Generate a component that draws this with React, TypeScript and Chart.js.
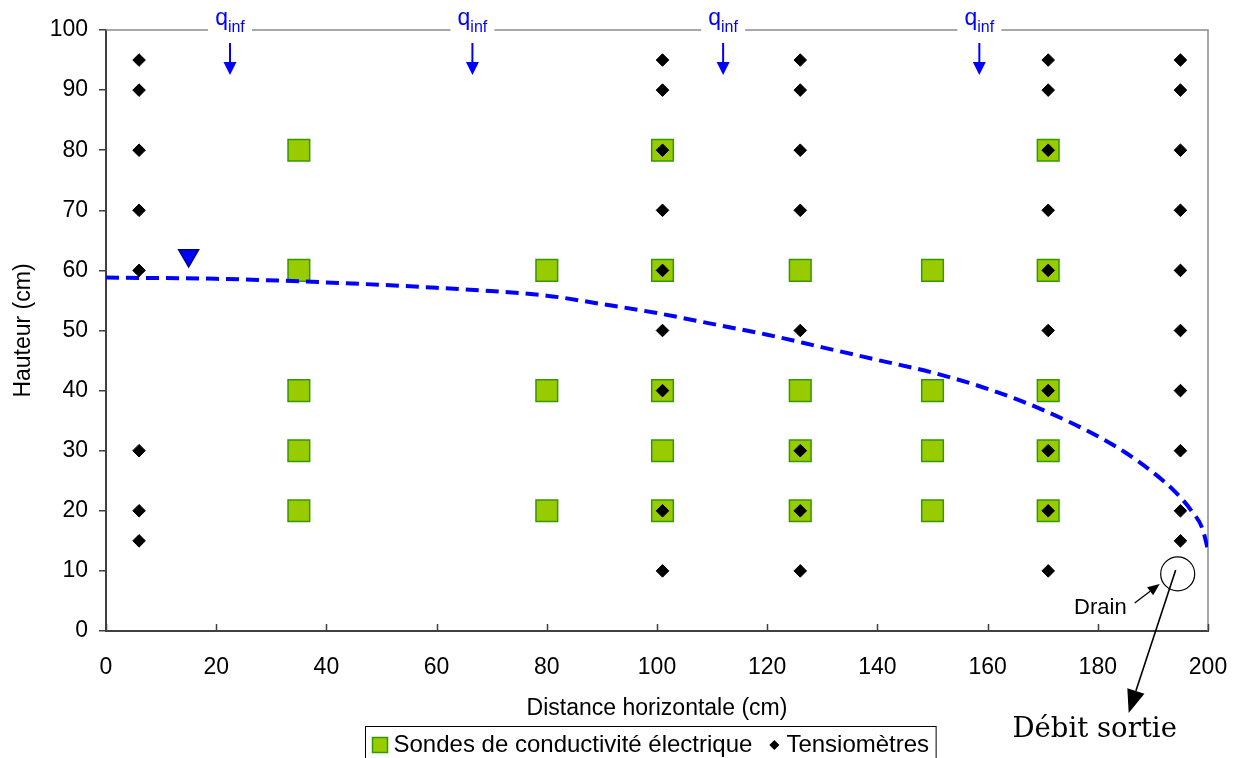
import React, { useEffect, useRef } from 'react';
import { Chart, registerables } from 'chart.js';

Chart.register(...registerables);

// ---- Data ----
const sondeColumns = [35, 80, 101, 126, 150, 171];
const sondeHeights = [
  [80, 60, 40, 30, 20],
  [60, 40, 20],
  [80, 60, 40, 30, 20],
  [60, 40, 30, 20],
  [60, 40, 30, 20],
  [80, 60, 40, 30, 20],
];
const tensioColumns = [6, 101, 126, 171, 195];
const tensioHeights = [
  [95, 90, 80, 70, 60, 30, 20, 15],
  [95, 90, 80, 70, 60, 50, 40, 20, 10],
  [95, 90, 80, 70, 50, 30, 20, 10],
  [95, 90, 80, 70, 60, 50, 40, 30, 20, 10],
  [95, 90, 80, 70, 60, 50, 40, 30, 20, 15],
];
const waterTableX = [0, 20, 40, 60, 80, 90, 100, 110, 120, 130, 140, 150, 160, 170, 180, 185, 190, 194, 197, 199, 200];
const waterTableY = [58.8, 58.6, 58.0, 57.1, 55.8, 54.4, 52.9, 51.1, 49.3, 47.2, 45.1, 43.0, 40.3, 36.8, 32.4, 29.7, 26.4, 23.2, 20.0, 17.0, 13.5];
const markerX = [15];
const markerY = [62.5];
const qInfX = [22.5, 66.5, 112, 158.5];
const drainX = [194.5];
const drainY = [9.5];
const xTickValues = [0, 20, 40, 60, 80, 100, 120, 140, 160, 180, 200];

const sondeLabel = 'Sondes de conductivité électrique';
const tensioLabel = 'Tensiomètres';

const SANS = '"Liberation Sans", Arial, sans-serif';
const SERIF = '"DejaVu Serif", "Liberation Serif", serif';

function pairs(cols: number[], rows: number[][]) {
  const out: { x: number; y: number }[] = [];
  cols.forEach((c, i) => rows[i].forEach((h) => out.push({ x: c, y: h })));
  return out;
}

function arrow(ctx: CanvasRenderingContext2D, x1: number, y1: number, x2: number, y2: number, headLen: number, headW: number, lw: number, color: string) {
  const ang = Math.atan2(y2 - y1, x2 - x1);
  const bx = x2 - Math.cos(ang) * headLen;
  const by = y2 - Math.sin(ang) * headLen;
  ctx.save();
  ctx.strokeStyle = color;
  ctx.fillStyle = color;
  ctx.lineWidth = lw;
  ctx.beginPath();
  ctx.moveTo(x1, y1);
  ctx.lineTo(bx, by);
  ctx.stroke();
  const nx = -Math.sin(ang) * headW / 2;
  const ny = Math.cos(ang) * headW / 2;
  ctx.beginPath();
  ctx.moveTo(x2, y2);
  ctx.lineTo(bx + nx, by + ny);
  ctx.lineTo(bx - nx, by - ny);
  ctx.closePath();
  ctx.fill();
  ctx.restore();
}

const decorPlugin = {
  id: 'decor',
  beforeDatasetsDraw(chart: any) {
    const { ctx, chartArea: a } = chart;
    const xs = chart.scales.x;
    ctx.save();
    ctx.strokeStyle = '#8a8a8a';
    ctx.lineWidth = 1.5;
    ctx.beginPath();
    ctx.moveTo(a.left, a.top);
    ctx.lineTo(a.right, a.top);
    ctx.lineTo(a.right, a.bottom);
    ctx.stroke();
    ctx.strokeStyle = '#404040';
    ctx.lineWidth = 1.5;
    ctx.beginPath();
    xTickValues.forEach((v) => {
      const px = Math.round(xs.getPixelForValue(v)) + 0.5;
      ctx.moveTo(px, a.bottom);
      ctx.lineTo(px, a.bottom - 7);
    });
    ctx.stroke();
    ctx.restore();
  },
  afterDraw(chart: any) {
    const { ctx, chartArea: a } = chart;
    const xs = chart.scales.x;
    const ys = chart.scales.y;
    ctx.save();
    // q_inf labels and arrows
    qInfX.forEach((v) => {
      const px = xs.getPixelForValue(v);
      ctx.fillStyle = '#ffffff';
      ctx.fillRect(px - 22, a.top - 4, 44, 8);
      ctx.fillStyle = '#0000ff';
      ctx.font = `23px ${SANS}`;
      ctx.textBaseline = 'alphabetic';
      ctx.textAlign = 'left';
      const wq = ctx.measureText('q').width;
      ctx.font = `16px ${SANS}`;
      const wi = ctx.measureText('inf').width;
      const left = px - (wq + wi) / 2;
      ctx.font = `23px ${SANS}`;
      ctx.fillText('q', left, a.top - 5);
      ctx.font = `16px ${SANS}`;
      ctx.fillText('inf', left + wq, a.top + 2);
      arrow(ctx, px, a.top + 13, px, a.top + 45, 13, 13, 2, '#0000ff');
    });

    // Drain annotation
    const dx = xs.getPixelForValue(drainX[0]);
    const dy = ys.getPixelForValue(drainY[0]);
    ctx.fillStyle = '#000000';
    ctx.font = `22px ${SANS}`;
    ctx.textAlign = 'right';
    ctx.textBaseline = 'alphabetic';
    ctx.fillText('Drain', dx - 51, dy + 40);
    arrow(ctx, dx - 43, dy + 29, dx - 18, dy + 10, 12, 10, 1.3, '#000000');
    arrow(ctx, dx - 2, dy - 4, dx - 49, dy + 139, 23, 18, 1.6, '#000000');
    ctx.font = `27.5px ${SERIF}`;
    ctx.textAlign = 'center';
    ctx.fillText('Débit sortie', dx - 83, dy + 163);

    // Legend
    ctx.font = `24px ${SANS}`;
    ctx.textAlign = 'left';
    ctx.textBaseline = 'middle';
    const w1 = ctx.measureText(sondeLabel).width;
    const w2 = ctx.measureText(tensioLabel).width;
    const pad = 7, sq = 15, g1 = 6, gap = 17, dia = 10, g2 = 7;
    const total = pad + sq + g1 + w1 + gap + dia + g2 + w2 + pad;
    const cx = (a.left + a.right) / 2 - 7;
    const bl = Math.round(cx - total / 2) + 0.5;
    const bt = 726.5;
    const cy = 745;
    ctx.strokeStyle = '#000000';
    ctx.lineWidth = 1;
    ctx.strokeRect(bl, bt, total, 60);
    let x = bl + pad;
    ctx.fillStyle = '#99cc00';
    ctx.fillRect(x, cy - sq / 2, sq, sq);
    ctx.strokeStyle = '#339900';
    ctx.lineWidth = 1.5;
    ctx.strokeRect(x, cy - sq / 2, sq, sq);
    x += sq + g1;
    ctx.fillStyle = '#000000';
    ctx.fillText(sondeLabel, x, cy);
    x += w1 + gap;
    ctx.beginPath();
    ctx.moveTo(x, cy);
    ctx.lineTo(x + dia / 2, cy - dia / 2);
    ctx.lineTo(x + dia, cy);
    ctx.lineTo(x + dia / 2, cy + dia / 2);
    ctx.closePath();
    ctx.fill();
    x += dia + g2;
    ctx.fillText(tensioLabel, x, cy);
    ctx.restore();
  },
};

export default function App() {
  const ref = useRef<HTMLCanvasElement | null>(null);
  useEffect(() => {
    if (!ref.current) return;
    const chart = new Chart(ref.current, {
      type: 'scatter',
      data: {
        datasets: [
          {
            label: 'Niveau',
            data: markerX.map((x, i) => ({ x, y: markerY[i] })),
            pointStyle: 'triangle',
            pointRotation: 180,
            pointRadius: 11.5,
            backgroundColor: '#0000ff',
            borderColor: '#000080',
            borderWidth: 1.5,
            order: 0,
          } as any,
          {
            label: tensioLabel,
            data: pairs(tensioColumns, tensioHeights),
            pointStyle: 'rectRot',
            pointRadius: 6.3,
            backgroundColor: '#000000',
            borderColor: '#000000',
            borderWidth: 1,
            order: 1,
          },
          {
            label: 'Drain',
            data: drainX.map((x, i) => ({ x, y: drainY[i] })),
            pointStyle: 'circle',
            pointRadius: 17,
            backgroundColor: 'rgba(0,0,0,0)',
            borderColor: '#000000',
            borderWidth: 1.2,
            order: 2,
          },
          {
            label: 'Surface libre',
            data: waterTableX.map((x, i) => ({ x, y: waterTableY[i] })),
            showLine: true,
            pointRadius: 0,
            borderColor: '#0000ff',
            borderWidth: 4,
            borderDash: [13, 7],
            cubicInterpolationMode: 'monotone',
            fill: false,
            order: 3,
          } as any,
          {
            label: sondeLabel,
            data: pairs(sondeColumns, sondeHeights),
            pointStyle: 'rect',
            pointRadius: 15.3,
            backgroundColor: '#99cc00',
            borderColor: '#339900',
            borderWidth: 1.5,
            order: 4,
          },
        ],
      },
      options: {
        animation: false,
        responsive: false,
        events: [],
        layout: { padding: { left: 0, top: 30, right: 33, bottom: 0 } },
        plugins: { legend: { display: false }, tooltip: { enabled: false } },
        scales: {
          x: {
            type: 'linear',
            min: 0,
            max: 200,
            ticks: { stepSize: 20, padding: 3, color: '#000000', font: { size: 23, family: SANS } },
            grid: { drawOnChartArea: false, drawTicks: true, tickLength: 20, color: 'rgba(0,0,0,0)' },
            border: { color: '#404040', width: 2 },
            title: {
              display: true,
              text: 'Distance horizontale (cm)',
              color: '#000000',
              font: { size: 23, family: SANS },
              padding: { top: 0, bottom: 36 },
            },
            afterFit: (s: any) => {
              s.height = 127;
            },
          },
          y: {
            type: 'linear',
            min: 0,
            max: 100,
            ticks: { stepSize: 10, padding: 11, color: '#000000', font: { size: 23, family: SANS } },
            grid: { drawOnChartArea: false, drawTicks: true, tickLength: 7, color: '#404040', lineWidth: 1.5 },
            border: { color: '#404040', width: 2 },
            title: {
              display: true,
              text: 'Hauteur (cm)',
              color: '#000000',
              font: { size: 23, family: SANS },
              padding: { top: 10, bottom: 0 },
            },
            afterFit: (s: any) => {
              s.width = 106;
            },
          },
        },
      },
      plugins: [decorPlugin],
    });
    return () => chart.destroy();
  }, []);
  return (
    <div style={{ position: 'absolute', left: 0, top: 0, width: 1241, height: 758, background: '#ffffff' }}>
      <canvas ref={ref} width={1241} height={758} style={{ display: 'block' }} />
    </div>
  );
}
